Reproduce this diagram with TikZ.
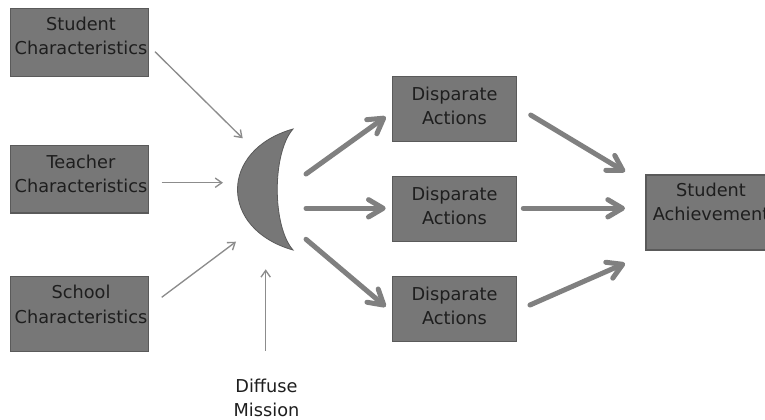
\documentclass[tikz,border=0pt]{standalone}
\usepackage{fontspec}
\setmainfont{DejaVu Sans}
\usetikzlibrary{arrows.meta}
\definecolor{boxfill}{HTML}{777777}
\definecolor{boxline}{HTML}{5A5A5A}
\definecolor{thickarr}{HTML}{808080}
\definecolor{thinarr}{HTML}{8C8C8C}
\definecolor{txt}{HTML}{1E1E1E}
\begin{document}
\begin{tikzpicture}[x=0.75pt,y=-0.75pt,
  box/.style={draw=boxline, line width=1pt, fill=boxfill, inner sep=0pt},
  lbl/.style={align=center, inner sep=0pt, text=txt, font=\fontsize{13.3}{18.2}\selectfont},
  thinarrow/.style={draw=thinarr, line width=1pt, -{Straight Barb[length=5pt,width=7pt]}},
  thickarrow/.style={draw=thickarr, line width=3.75pt, line cap=round, -{Straight Barb[length=11pt,width=13pt,round]}}]
\clip (0,0) rectangle (765,419);
\fill[white] (0,0) rectangle (765,419);

% boxes
\node[box, minimum width=103.5pt, minimum height=51pt]   (sc)  at (79.7,42.2)  {};
\node[box, minimum width=103.5pt, minimum height=50.5pt] (tc)  at (79.7,179.4) {};
\node[box, minimum width=103.5pt, minimum height=56.25pt](hc)  at (79.7,314.2) {};
\node[box, minimum width=93pt, minimum height=48.75pt]   (da1) at (454.7,109.2) {};
\node[box, minimum width=93pt, minimum height=48.75pt]   (da2) at (454.7,209.2) {};
\node[box, minimum width=93pt, minimum height=48.75pt]   (da3) at (454.7,309.2) {};
\node[box, minimum width=97.5pt, minimum height=56.25pt] (sa)  at (711,212.5) {};

% labels
\node[lbl] (scl)  at (81,36)    {Student\\Characteristics};
\node[lbl] (tcl)  at (81,174)   {Teacher\\Characteristics};
\node[lbl] (hcl)  at (81,304.5) {School\\Characteristics};
\node[lbl] (da1l) at (454.5,106) {Disparate\\Actions};
\node[lbl] (da2l) at (454.5,206) {Disparate\\Actions};
\node[lbl] (da3l) at (454.5,306) {Disparate\\Actions};
\node[lbl] (sal)  at (711,201.7) {Student\\Achievement};
\node[lbl] (dml)  at (266.5,398) {Diffuse\\Mission};

% crescent
\draw[fill=boxfill, draw=boxline, line width=0.6pt]
  (293,129) .. controls (219,150) and (219,229) .. (293,250)
            .. controls (272,226) and (272,153) .. (293,129) -- cycle;

% thin arrow end points
\coordinate (s1) at (155,51.7);   \coordinate (e1) at (242.7,138.3);
\coordinate (s2) at (161.7,182.7); \coordinate (e2) at (223,182.7);
\coordinate (s3) at (161.7,297.3); \coordinate (e3) at (236,241.7);
\coordinate (s4) at (265.7,350.7); \coordinate (e4) at (265.7,269.3);
\draw[thinarrow] (s1) -- (e1);
\draw[thinarrow] (s2) -- (e2);
\draw[thinarrow] (s3) -- (e3);
\draw[thinarrow] (s4) -- (e4);

% thick arrows
\coordinate (m1) at (306,174);   \coordinate (t1) at (385.7,116.7);
\coordinate (m2) at (306,208.3); \coordinate (t2) at (385.7,208.3);
\coordinate (m3) at (306,239.3); \coordinate (t3) at (385.7,306.7);
\coordinate (r1) at (530.7,115); \coordinate (u1) at (625,171.7);
\coordinate (r2) at (523.3,208.3); \coordinate (u2) at (625,208.3);
\coordinate (r3) at (530,305);   \coordinate (u3) at (625,263.3);
\draw[thickarrow] (m1) -- (t1);
\draw[thickarrow] (m2) -- (t2);
\draw[thickarrow] (m3) -- (t3);
\draw[thickarrow] (r1) -- (u1);
\draw[thickarrow] (r2) -- (u2);
\draw[thickarrow] (r3) -- (u3);
\end{tikzpicture}
\end{document}
